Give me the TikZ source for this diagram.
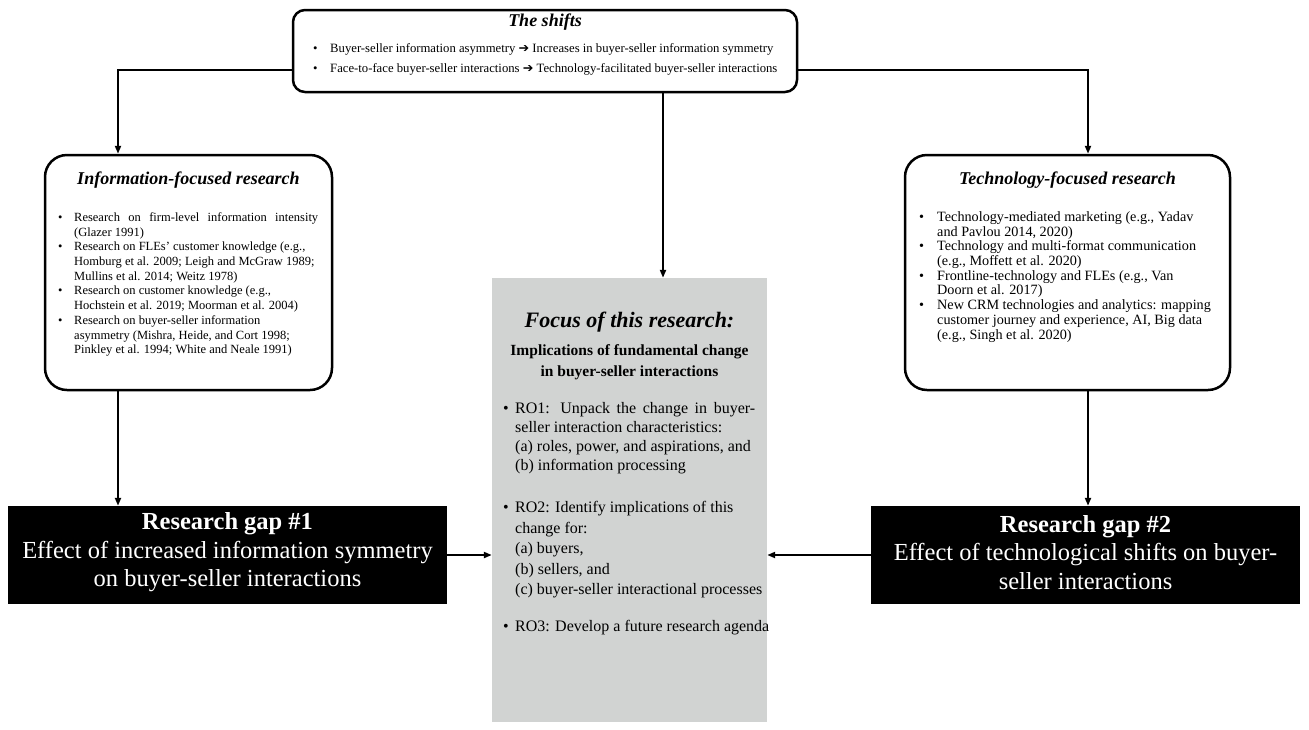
\documentclass[tikz,border=0pt]{standalone}
\usepackage{fontspec}
\setmainfont{Liberation Serif}
\newfontfamily\symf{DejaVu Sans}
\usetikzlibrary{arrows.meta}
\definecolor{boxgray}{RGB}{209,211,210}
\tikzset{
 frame/.style={draw, line width=2.5pt, rounded corners=22pt, inner sep=0pt},
 arr/.style={line width=2pt, -{Triangle[length=8pt,width=6pt]}},
 gapbox/.style={fill=black, inner sep=0pt},
 gaptext/.style={text=white, inner sep=0pt, align=center, font=\fontsize{24.5}{28.5}\selectfont},
 ttl/.style={font=\fontsize{18}{21}\selectfont\bfseries\itshape, inner sep=0pt},
 body/.style={anchor=north west, inner sep=0pt},
}
\begin{document}
\begin{tikzpicture}[x=1pt,y=-1pt]
\useasboundingbox (0,0) rectangle (1309,729);
% top box
\node[frame, rounded corners=12pt, minimum width=504pt, minimum height=82pt] (top) at (545,51) {};
\node[ttl] (toptitle) at (545,22) {The shifts};
\node[body, font=\fontsize{12.7}{20}\selectfont] (toptext) at (313,38.5) {\begin{tabular}{@{}p{17pt}@{}l@{}}
\textbullet & Buyer-seller information asymmetry {\symf ➔} Increases in buyer-seller information symmetry\\
\textbullet & Face-to-face buyer-seller interactions {\symf ➔} Technology-facilitated buyer-seller interactions
\end{tabular}};
% left box
\node[frame, minimum width=287pt, minimum height=235pt] (left) at (188.5,272.5) {};
\node[ttl] (lefttitle) at (188.5,180) {Information-focused research};
\node[body, font=\fontsize{12.5}{14.7}\selectfont] (lefttext) at (58,211) {\begin{tabular}{@{}p{16pt}@{}l@{}}
\textbullet & \makebox[244pt][s]{Research on firm-level information intensity}\\
 & (Glazer 1991)\\
\textbullet & Research on FLEs’ customer knowledge (e.g.,\\
 & Homburg et al. 2009; Leigh and McGraw 1989;\\
 & Mullins et al. 2014; Weitz 1978)\\
\textbullet & Research on customer knowledge (e.g.,\\
 & Hochstein et al. 2019; Moorman et al. 2004)\\
\textbullet & Research on buyer-seller information\\
 & asymmetry (Mishra, Heide, and Cort 1998;\\
 & Pinkley et al. 1994; White and Neale 1991)
\end{tabular}};
% right box
\node[frame, minimum width=325pt, minimum height=235pt] (right) at (1067.5,272.5) {};
\node[ttl] (righttitle) at (1067.5,180) {Technology-focused research};
\node[body, font=\fontsize{14.2}{14.7}\selectfont] (righttext) at (919,211) {\begin{tabular}{@{}p{18pt}@{}l@{}}
\textbullet & Technology-mediated marketing (e.g., Yadav\\
 & and Pavlou 2014, 2020)\\
\textbullet & Technology and multi-format communication\\
 & (e.g., Moffett et al. 2020)\\
\textbullet & Frontline-technology and FLEs (e.g., Van\\
 & Doorn et al. 2017)\\
\textbullet & New CRM technologies and analytics: mapping\\
 & customer journey and experience, AI, Big data\\
 & (e.g., Singh et al. 2020)
\end{tabular}};
% gray focus box
\node[fill=boxgray, inner sep=0pt, minimum width=275pt, minimum height=444pt] (gray) at (629.5,500) {};
\node[font=\fontsize{22}{26}\selectfont\bfseries\itshape, inner sep=0pt] (graytitle) at (629.5,322) {Focus of this research:};
\node[font=\fontsize{15.5}{20.5}\selectfont\bfseries, align=center, inner sep=0pt] (graysub) at (629.5,362) {Implications of fundamental change\\in buyer-seller interactions};
\node[body, font=\fontsize{16}{19}\selectfont] (graytext) at (503,400) {\begin{tabular}{@{}p{12pt}@{}l@{}}
\textbullet & \makebox[240pt][s]{RO1: Unpack the change in buyer-}\\
 & seller interaction characteristics:\\
 & (a) roles, power, and aspirations, and\\
 & (b) information processing\\[23pt]
\textbullet & RO2: Identify implications of this\\[1.5pt]
 & change for:\\[1.5pt]
 & (a) buyers,\\[1.5pt]
 & (b) sellers, and\\[1.5pt]
 & (c) buyer-seller interactional processes\\[18pt]
\textbullet & RO3: Develop a future research agenda
\end{tabular}};
% research gaps
\node[gapbox, minimum width=439pt, minimum height=98pt] (gap1) at (227.5,555) {};
\node[gaptext] (gap1text) at (227.5,552.5) {\textbf{Research gap \#1}\\Effect of increased information symmetry\\on buyer-seller interactions};
\node[gapbox, minimum width=429pt, minimum height=98pt] (gap2) at (1085.5,555) {};
\node[gaptext] (gap2text) at (1085.5,552.5) {\textbf{Research gap \#2}\\Effect of technological shifts on buyer-\\seller interactions};
% connectors
\coordinate (lx) at (118,0);
\coordinate (rx) at (1088,0);
\coordinate (cx) at (663,0);
\draw[arr] ([yshift=-19pt]top.west) -| (left.north -| lx);
\draw[arr] ([yshift=-19pt]top.east) -| (right.north -| rx);
\draw[arr] (top.south -| cx) -- (gray.north -| cx);
\draw[arr] (left.south -| lx) -- (gap1.north -| lx);
\draw[arr] (right.south -| rx) -- (gap2.north -| rx);
\draw[arr] (gap1.east) -- (gray.west |- gap1.east);
\draw[arr] (gap2.west) -- (gray.east |- gap2.west);
\end{tikzpicture}
\end{document}
